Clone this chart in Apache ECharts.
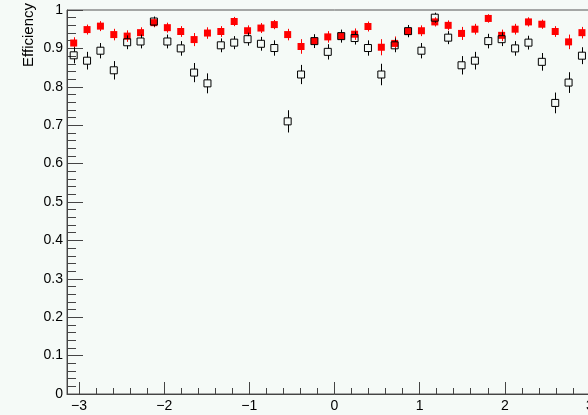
<!DOCTYPE html>
<html>
<head>
<meta charset="utf-8">
<script src="https://cdn.jsdelivr.net/npm/echarts@6/dist/echarts.min.js"></script>
<style>
html,body{margin:0;padding:0;background:#f5faf7;overflow:hidden;width:588px;height:415px;}
#chart{width:620px;height:415px;}
</style>
</head>
<body>
<div id="chart"></div>
<script>
// Bin centres (40 bins between -pi and pi)
const xCenters = [-3.063,-2.906,-2.749,-2.592,-2.435,-2.278,-2.121,-1.963,-1.806,-1.649,
  -1.492,-1.335,-1.178,-1.021,-0.864,-0.707,-0.550,-0.393,-0.236,-0.079,
  0.079,0.236,0.393,0.550,0.707,0.864,1.021,1.178,1.335,1.492,
  1.649,1.806,1.963,2.121,2.278,2.435,2.592,2.749,2.906,3.063];
// Red filled squares
const redEff = [0.914,0.949,0.958,0.936,0.932,0.941,0.967,0.954,0.944,0.923,
  0.940,0.944,0.970,0.946,0.953,0.962,0.936,0.905,0.919,0.930,
  0.932,0.937,0.957,0.903,0.913,0.944,0.946,0.969,0.960,0.939,
  0.950,0.978,0.934,0.950,0.969,0.963,0.944,0.917,0.941,0.935];
const redErr = [0.015,0.013,0.013,0.015,0.015,0.014,0.012,0.013,0.014,0.017,
  0.015,0.014,0.012,0.014,0.013,0.012,0.015,0.019,0.016,0.015,
  0.015,0.015,0.013,0.021,0.018,0.014,0.014,0.012,0.013,0.017,
  0.014,0.011,0.015,0.014,0.012,0.012,0.014,0.019,0.015,0.015];
// Black open squares
const blackEff = [0.882,0.868,0.894,0.843,0.916,0.918,0.970,0.918,0.900,0.837,
  0.809,0.908,0.915,0.924,0.912,0.901,0.710,0.832,0.919,0.891,
  0.932,0.927,0.901,0.832,0.908,0.945,0.894,0.980,0.928,0.856,
  0.868,0.919,0.924,0.900,0.915,0.865,0.758,0.811,0.881,0.870];
const blackErr = [0.021,0.023,0.020,0.024,0.018,0.018,0.013,0.018,0.019,0.025,
  0.026,0.018,0.017,0.017,0.018,0.020,0.029,0.025,0.018,0.020,
  0.017,0.017,0.020,0.028,0.018,0.016,0.020,0.013,0.017,0.024,
  0.023,0.019,0.018,0.019,0.018,0.023,0.027,0.027,0.022,0.023];
// Tick values
const xTicks = [-3,-2,-1,0,1,2,3];
const yTicks = [0,0.1,0.2,0.3,0.4,0.5,0.6,0.7,0.8,0.9,1];
const xMinor = [];
for (let i = -15; i <= 15; i++) xMinor.push(i / 5);
const yMinor = [];
for (let i = 0; i <= 50; i++) yMinor.push(i / 50);

const FONT = '"Liberation Sans", Arial, Helvetica, sans-serif';
const AX = '#444';

function pts(vals, errs) {
  return xCenters.map((x, i) => [x, vals[i], errs[i]]);
}
function errBars(name, data, color, gap, z) {
  return {
    type: 'custom', name, z, silent: true, clip: true,
    data,
    encode: { x: 0, y: 1 },
    renderItem(params, api) {
      const x = api.value(0), y = api.value(1), e = api.value(2);
      const c = api.coord([x, y]);
      const t = api.coord([x, y + e]);
      const b = api.coord([x, y - e]);
      const px = Math.round(c[0]) + 0.5;
      const children = [];
      if (c[1] - gap > t[1]) children.push({ type: 'line', shape: { x1: px, y1: t[1], x2: px, y2: c[1] - gap }, style: { stroke: color, lineWidth: 1 } });
      if (c[1] + gap < b[1]) children.push({ type: 'line', shape: { x1: px, y1: c[1] + gap, x2: px, y2: b[1] }, style: { stroke: color, lineWidth: 1 } });
      return { type: 'group', children };
    }
  };
}

const chart = echarts.init(document.getElementById('chart'), null, { renderer: 'canvas' });
chart.setOption({
  animation: false,
  backgroundColor: '#f5faf7',
  grid: { left: 67, top: 10, width: 535, height: 384, show: true, borderColor: '#555', borderWidth: 1, backgroundColor: 'transparent' },
  xAxis: [
    {
      type: 'value', min: -Math.PI, max: Math.PI, position: 'bottom',
      axisLine: { show: true, onZero: false, lineStyle: { color: AX, width: 1 } },
      splitLine: { show: false },
      axisTick: { show: true, inside: true, length: 12, customValues: xTicks, lineStyle: { color: AX } },
      axisLabel: { show: true, customValues: xTicks, margin: 5, color: '#000', fontFamily: FONT, fontSize: 14,
        formatter: v => String(v).replace('-', '\u2212') }
    },
    {
      type: 'value', min: -Math.PI, max: Math.PI, position: 'bottom',
      axisLine: { show: false, onZero: false }, splitLine: { show: false }, axisLabel: { show: false },
      axisTick: { show: true, inside: true, length: 6, customValues: xMinor, lineStyle: { color: AX } }
    }
  ],
  yAxis: [
    {
      type: 'value', min: 0, max: 1, position: 'left',
      axisLine: { show: true, onZero: false, lineStyle: { color: AX, width: 1 } },
      splitLine: { show: false },
      axisTick: { show: true, inside: true, length: 16, customValues: yTicks, lineStyle: { color: AX } },
      axisLabel: { show: true, customValues: yTicks, margin: 4, color: '#000', fontFamily: FONT, fontSize: 14,
        formatter: v => String(v) }
    },
    {
      type: 'value', min: 0, max: 1, position: 'left',
      axisLine: { show: false, onZero: false }, splitLine: { show: false }, axisLabel: { show: false },
      axisTick: { show: true, inside: true, length: 9, customValues: yMinor, lineStyle: { color: AX } }
    }
  ],
  graphic: [
    { type: 'text', x: 29, y: 3, rotation: Math.PI / 2,
      style: { text: 'Efficiency', fill: '#000', font: '15px ' + FONT, align: 'right', verticalAlign: 'middle' } }
  ],
  series: [
    errBars('redErr', pts(redEff, redErr), '#ff0000', 0, 2),
    {
      type: 'scatter', name: 'red', z: 3, silent: true,
      data: pts(redEff, redErr), encode: { x: 0, y: 1 },
      symbol: 'rect', symbolSize: 7,
      itemStyle: { color: '#ff0000', opacity: 1 }
    },
    errBars('blackErr', pts(blackEff, blackErr), '#000000', 3.5, 4),
    {
      type: 'scatter', name: 'black', z: 5, silent: true,
      data: pts(blackEff, blackErr), encode: { x: 0, y: 1 },
      symbol: 'rect', symbolSize: 7,
      itemStyle: { color: 'rgba(0,0,0,0)', borderColor: '#000', borderWidth: 1, opacity: 1 }
    }
  ]
});
</script>
</body>
</html>
